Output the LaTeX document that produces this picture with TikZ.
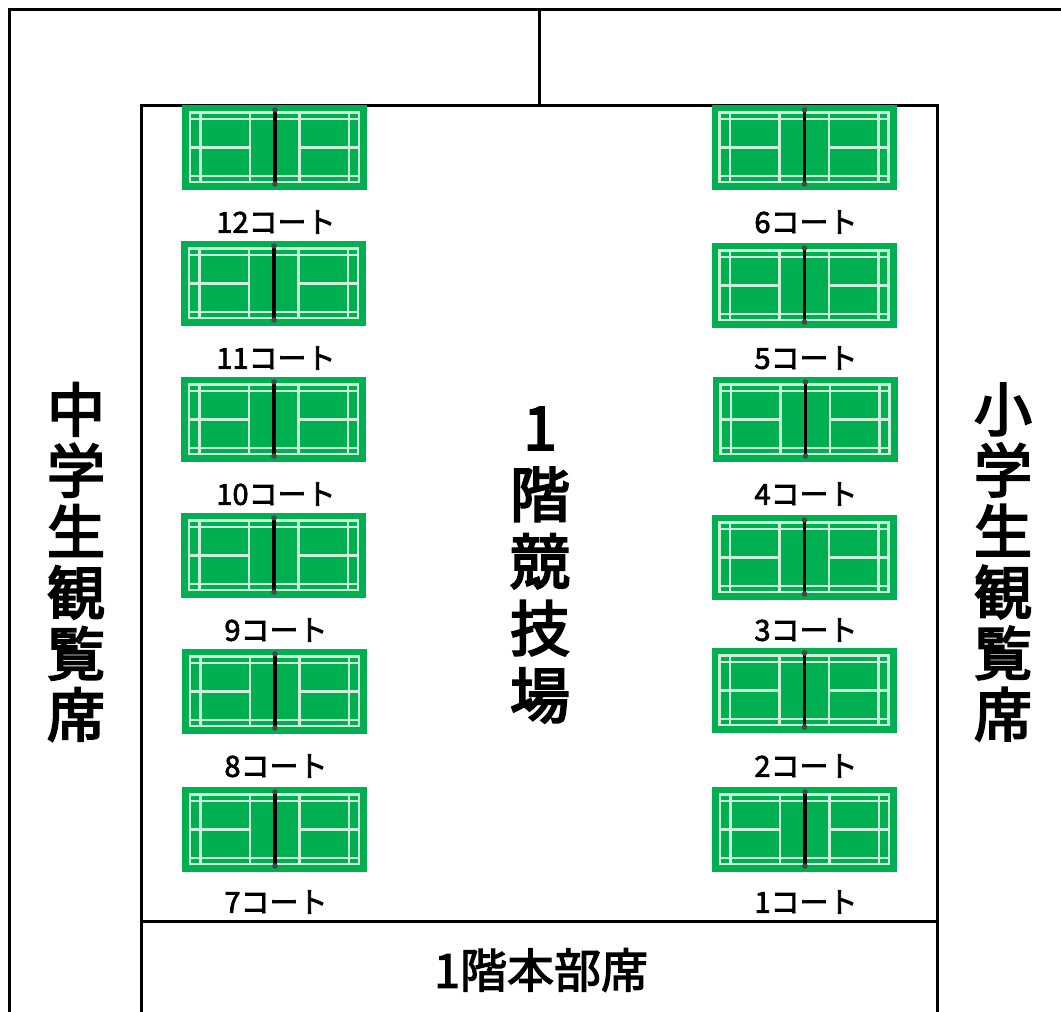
\documentclass[tikz,border=0pt]{standalone}
\usepackage{fontspec}
\setmainfont{Noto Sans CJK JP}
\newfontfamily\labelfont{Noto Sans CJK JP}[FakeBold=2.5]
\newfontfamily\bigfont{Noto Sans CJK JP}[FakeBold=3.5]
\definecolor{courtgreen}{RGB}{0,176,80}
\definecolor{courtline}{RGB}{205,238,218}
\tikzset{
  wall/.style={draw=black,line width=3pt},
  courtlabel/.style={font=\labelfont\fontsize{29}{29}\selectfont,inner sep=0pt,text=black},
  bigtext/.style={font=\bigfont\fontsize{58}{61}\selectfont,inner sep=0pt,align=center,text=black},
  pics/court/.style={code={
    \fill[courtgreen] (0,0) rectangle (185,85);
    \begin{scope}[draw=courtline,line width=2.4pt]
      \draw (8,7.5) rectangle (177,77);
      \draw (18.5,7.5) -- (18.5,77) (68,7.5) -- (68,77) (117.5,7.5) -- (117.5,77) (167,7.5) -- (167,77);
      \draw (8,14) -- (177,14) (8,71) -- (177,71);
      \draw (8,42.3) -- (68,42.3) (117.5,42.3) -- (177,42.3);
    \end{scope}
    \draw[black,line width=3.2pt] (93,5) -- (93,79);
    \fill[black!72] (93,5) circle (2.8) (93,79) circle (2.8);
  }}
}
\begin{document}
\begin{tikzpicture}[x=1pt,y=-1pt]
\useasboundingbox (0,0) rectangle (1061,1012);
\fill[white] (0,0) rectangle (1061,1012);
\coordinate (ol) at (9.5,1012);
\coordinate (otl) at (9.5,9);
\coordinate (otr) at (1061,9);
\coordinate (otm) at (539.5,9);
\coordinate (itm) at (539.5,105);
\coordinate (itl) at (141,105);
\coordinate (itr) at (937.5,105);
\coordinate (ibl) at (141,1012);
\coordinate (ibr) at (937.5,1012);
\coordinate (hl) at (141,921);
\coordinate (hr) at (937.5,921);
\draw[wall,line cap=rect] (ol) -- (otl) -- (otr);
\draw[wall] (otm) -- (itm);
\draw[wall,line join=miter] (ibl) -- (itl) -- (itr) -- (ibr);
\draw[wall] (hl) -- (hr);
\foreach \x/\y/\n in {182/105/c12,181/241/c11,181/377/c10,181/513/c9,182/649/c8,182/787/c7,
                      711.5/105/c6,711.5/243/c5,712.5/377/c4,711.5/515/c3,711.5/648/c2,712/787/c1}
  \pic (\n) at (\x,\y) {court};
\foreach \x/\y/\t/\n in {276/222/12/l12,276/358/11/l11,276/494/10/l10,276/630/9/l9,276/766/8/l8,276/902/7/l7,
                         806/222/6/l6,806/358/5/l5,806/494/4/l4,806/630/3/l3,806/766/2/l2,806/902/1/l1}
  \node[courtlabel] (\n) at (\x,\y) {\t コート};
\node[bigtext] (jh) at (76,562) {中\\学\\生\\観\\覧\\席};
\node[bigtext] (el) at (1003,562) {小\\学\\生\\観\\覧\\席};
\node[bigtext,font=\bigfont\fontsize{60}{67}\selectfont] (arena) at (540,565) {1\\階\\競\\技\\場};
\node[bigtext,font=\labelfont\fontsize{47}{50}\selectfont] (hq) at (541,970) {1階本部席};
\end{tikzpicture}
\end{document}
